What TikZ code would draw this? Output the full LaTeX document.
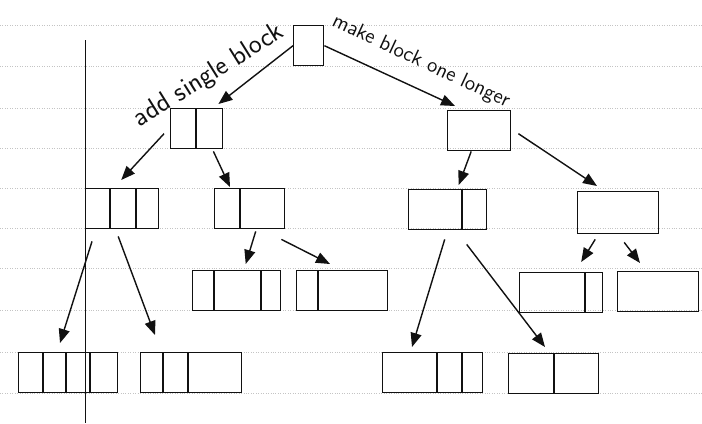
\documentclass[tikz,border=0pt]{standalone}
\usepackage{tikz}
\usetikzlibrary{arrows.meta,positioning,calc}
\definecolor{ink}{HTML}{111111}
\definecolor{ruleline}{HTML}{C4C4C4}
\tikzset{
  blockrow/.style={
    rectangle,
    draw=ink,
    thick,
    inner sep=0pt,
    anchor=north west,
    minimum height=0.8cm
  },
  move/.style={-{Triangle[length=2.8mm,width=2.2mm]},thick,draw=ink},
  scrawl/.style={font=\sffamily\large,text=ink,inner sep=0pt},
  paperrule/.style={densely dotted,draw=ruleline,thin}
}
% a bar of blocks: name, x, y, width (px), divider offsets (px)
\newcommand{\blockbar}[5]{%
  \node[blockrow,minimum width=#4*0.02cm] (#1) at (#2,#3) {};
  \foreach \d in {#5} {
    \draw[ink,thick] ($(#1.north west)+(\d,0)$) -- ($(#1.south west)+(\d,0)$);
  }
}

\begin{document}
\begin{tikzpicture}[x=0.02cm,y=-0.02cm]
    \useasboundingbox (0,0) rectangle (702,423);

    % lined paper
    \foreach \y in {25,66,108,148,188,228,268,310,352,393}
      \draw[paperrule] (0,\y) -- (702,\y);
    \draw[ink,thin] (85,40) -- (85,423);

    \node[blockrow,minimum width=0.6cm] (root) at (293,25) {};
    \blockbar{addone}{170}{108}{52}{26}
    \node[blockrow,minimum width=63*0.02cm] (longer) at (447,110) {};

    \blockbar{a}{85}{188}{73}{25,51}
    \blockbar{b}{214}{188}{70}{26}
    \blockbar{c}{408}{189}{78}{54}
    \node[blockrow,minimum width=81*0.02cm,minimum height=0.84cm] (d) at (577,191) {};

    \blockbar{ba}{192}{270}{88}{22,69}
    \blockbar{bb}{296}{270}{91}{22}
    \blockbar{da}{519}{272}{83}{66}
    \node[blockrow,minimum width=81*0.02cm] (db) at (617,271) {};

    \blockbar{aa}{18}{352}{99}{25,48,72}
    \blockbar{ab}{140}{352}{101}{23,48}
    \blockbar{ca}{382}{352}{100}{55,80}
    \blockbar{cb}{508}{353}{90}{46}

    \node[scrawl,font=\sffamily\fontsize{15.5}{18}\selectfont,rotate=32] (addlbl) at (209,76) {add single block};
    \node[scrawl,rotate=-25] (longlbl) at (421,62) {make block one longer};

    \draw[move] (root.west) -- ($(addone.north east)+(-5,-4)$);
    \draw[move] (root.east) -- ($(longer.north west)+(8,-4)$);
    \draw[move] ($(addone.west)+(-6,5)$) -- ($(a.north)+(-1,-8)$);
    \draw[move] ($(addone.south east)+(-10,2)$) -- ($(b.north west)+(16,-1)$);
    \draw[move] ($(longer.south)+(-8,0)$) -- ($(c.north)+(11,-4)$);
    \draw[move] ($(longer.east)+(7,3)$) -- ($(d.north west)+(20,-5)$);
    \draw[move] ($(a.south west)+(7,12)$) -- ($(aa.north west)+(42,-9)$);
    \draw[move] ($(a.south)+(-4,7)$) -- ($(ab.north west)+(15,-17)$);
    \draw[move] ($(b.south)+(6,2)$) -- ($(ba.north)+(9,-6)$);
    \draw[move] ($(b.south east)+(-4,10)$) -- ($(bb.north west)+(34,-6)$);
    \draw[move] ($(c.south)+(-3,9)$) -- ($(ca.north west)+(30,-5)$);
    \draw[move] ($(c.south)+(19,14)$) -- ($(cb.north west)+(37,-6)$);
    \draw[move] ($(d.south)+(-23,5)$) -- ($(da.north)+(20,-10)$);
    \draw[move] ($(d.south)+(6,8)$) -- ($(db.north west)+(23,-8)$);
  \end{tikzpicture}
\end{document}
